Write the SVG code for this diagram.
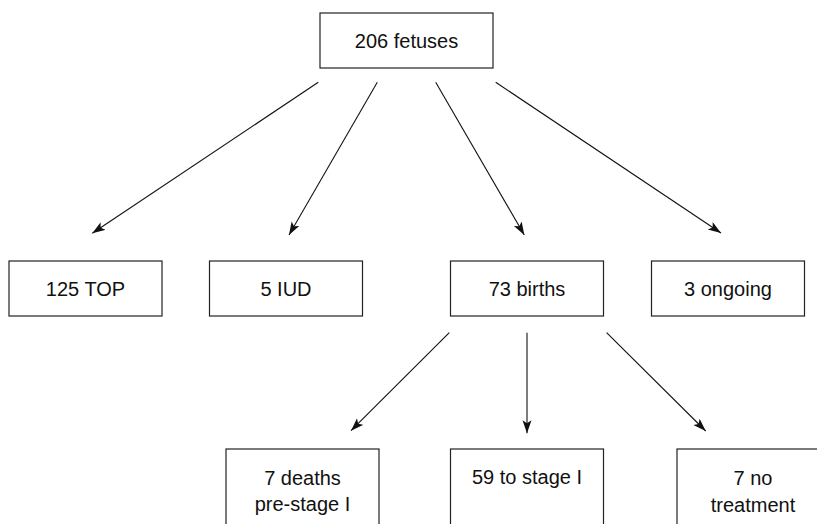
<svg xmlns="http://www.w3.org/2000/svg" width="817" height="524" viewBox="0 0 817 524">
<style>
rect.box{fill:#fff;stroke:#222;stroke-width:1.2}
text{font-family:"Liberation Sans",Arial,sans-serif;font-size:20px;fill:#111;text-anchor:middle}
.conn line{stroke:#111;stroke-width:1.1;marker-end:url(#ah)}
</style>
<defs>
<marker id="ah" markerUnits="userSpaceOnUse" markerWidth="14" markerHeight="10" refX="13" refY="4.5" orient="auto">
<path d="M0,0 L13,4.5 L0,9 L3,4.5 Z" fill="#111"/>
</marker>
</defs>
<rect width="817" height="524" fill="#fff"/>
<g id="n-fetuses"><rect class="box" x="320" y="13" width="173" height="55"/><text x="406.5" y="48">206 fetuses</text></g>
<g id="n-top"><rect class="box" x="9" y="261" width="153" height="55"/><text x="85.5" y="296">125 TOP</text></g>
<g id="n-iud"><rect class="box" x="209.5" y="261" width="153" height="55"/><text x="286" y="296">5 IUD</text></g>
<g id="n-births"><rect class="box" x="450.5" y="261" width="153" height="55"/><text x="527" y="296">73 births</text></g>
<g id="n-ongoing"><rect class="box" x="651.5" y="261" width="153" height="55"/><text x="728" y="296">3 ongoing</text></g>
<g id="n-deaths"><rect class="box" x="226" y="449" width="153" height="90"/><text x="302.5" y="485">7 deaths</text><text x="302.5" y="511">pre-stage I</text></g>
<g id="n-stage"><rect class="box" x="450.5" y="449" width="153" height="90"/><text x="527" y="484">59 to stage I</text></g>
<g id="n-notreat"><rect class="box" x="677" y="449" width="153" height="90"/><text x="753" y="485">7 no</text><text x="753" y="512">treatment</text></g>
<g id="connectors" class="conn">
<line x1="318.3" y1="82.3" x2="92.3" y2="233.3"/>
<line x1="377.3" y1="82.3" x2="289" y2="235"/>
<line x1="435.7" y1="82.3" x2="524.3" y2="235"/>
<line x1="495.7" y1="82.3" x2="721" y2="233"/>
<line x1="449.3" y1="332.7" x2="351" y2="430.7"/>
<line x1="527" y1="332.7" x2="527" y2="433.3"/>
<line x1="606.6" y1="332.7" x2="705.7" y2="431"/>
</g>
</svg>
